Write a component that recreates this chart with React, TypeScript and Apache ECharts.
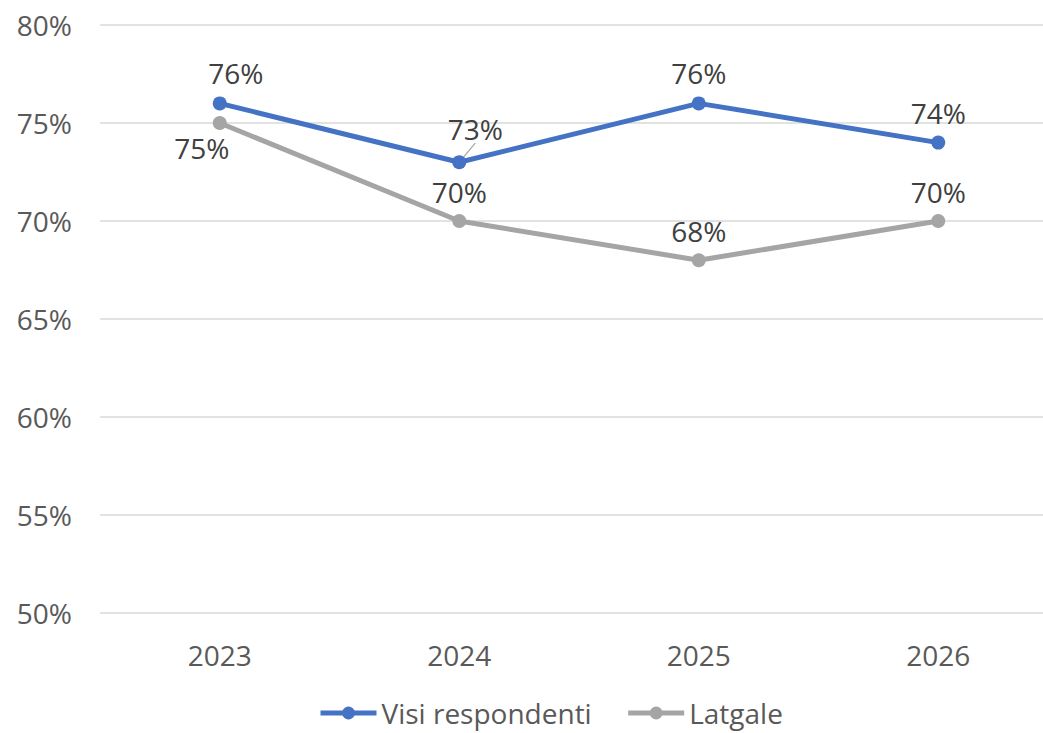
import React, { useEffect, useRef } from "react";
import * as echarts from "echarts";

const categories = ["2023", "2024", "2025", "2026"];
const visiRespondenti = [76, 73, 76, 74];
const latgale = [75, 70, 68, 70];
const seriesNames = ["Visi respondenti", "Latgale"];

const FONT = "'Open Sans', 'Liberation Sans', sans-serif";
const FS = 28;

export default function App() {
  const ref = useRef<HTMLDivElement>(null);
  useEffect(() => {
    if (!ref.current) return;
    const chart = echarts.init(ref.current, undefined, { renderer: "svg" });
    const labelBase = {
      show: true,
      fontFamily: FONT,
      fontSize: FS,
      color: "#404040",
      formatter: (p: any) => `${p.value}%`,
    };
    chart.setOption({
      animation: false,
      backgroundColor: "#ffffff",
      textStyle: { fontFamily: FONT },
      grid: { left: 100, top: 25, width: 958, height: 588, containLabel: false },
      legend: {
        top: 694,
        left: 313,
        itemWidth: 56,
        itemHeight: 16,
        itemGap: 34,
        lineStyle: { width: 5 },
        textStyle: { fontFamily: FONT, fontSize: FS, color: "#595959" },
        data: seriesNames,
      },
      xAxis: {
        type: "category",
        data: categories,
        axisLine: { show: false },
        axisTick: { show: false },
        axisLabel: { fontFamily: FONT, fontSize: FS, color: "#595959", margin: 28 },
      },
      yAxis: {
        type: "value",
        min: 50,
        max: 80,
        interval: 5,
        axisLine: { show: false },
        axisTick: { show: false },
        splitLine: { lineStyle: { color: "#d9d9d9", width: 1.5 } },
        axisLabel: {
          fontFamily: FONT,
          fontSize: FS,
          color: "#595959",
          margin: 28,
          formatter: (v: number) => `${v}%`,
        },
      },
      series: [
        {
          name: seriesNames[0],
          type: "line",
          data: visiRespondenti.map((v, i) =>
            i === 1
              ? {
                  value: v,
                  labelLine: { show: true, lineStyle: { color: "#a5a5a5", width: 1.2 } },
                }
              : v
          ),
          color: "#4472C4",
          symbol: "circle",
          symbolSize: 14,
          lineStyle: { width: 5, color: "#4472C4" },
          itemStyle: { color: "#4472C4" },
          label: { ...labelBase, position: "top", distance: 9 },
          labelLayout: (p: any) =>
            p.dataIndex === 1 ? { dx: 16, dy: -3 } : p.dataIndex === 0 ? { dx: 16 } : {},
          z: 3,
        },
        {
          name: seriesNames[1],
          type: "line",
          data: latgale.map((v, i) =>
            i === 0 ? { value: v, label: { position: "bottom", distance: 4 } } : v
          ),
          color: "#A5A5A5",
          symbol: "circle",
          symbolSize: 14,
          lineStyle: { width: 5, color: "#A5A5A5" },
          itemStyle: { color: "#A5A5A5" },
          label: { ...labelBase, position: "top", distance: 8 },
          labelLayout: (p: any) => (p.dataIndex === 0 ? { dx: -18 } : {}),
          z: 2,
        },
      ],
    });
    return () => chart.dispose();
  }, []);
  return (
    <div
      style={{
        position: "fixed",
        left: 0,
        top: 0,
        width: 1043,
        height: 733,
        overflow: "hidden",
        background: "#fff",
      }}
    >
      <div ref={ref} style={{ width: 1060, height: 733 }} />
    </div>
  );
}
